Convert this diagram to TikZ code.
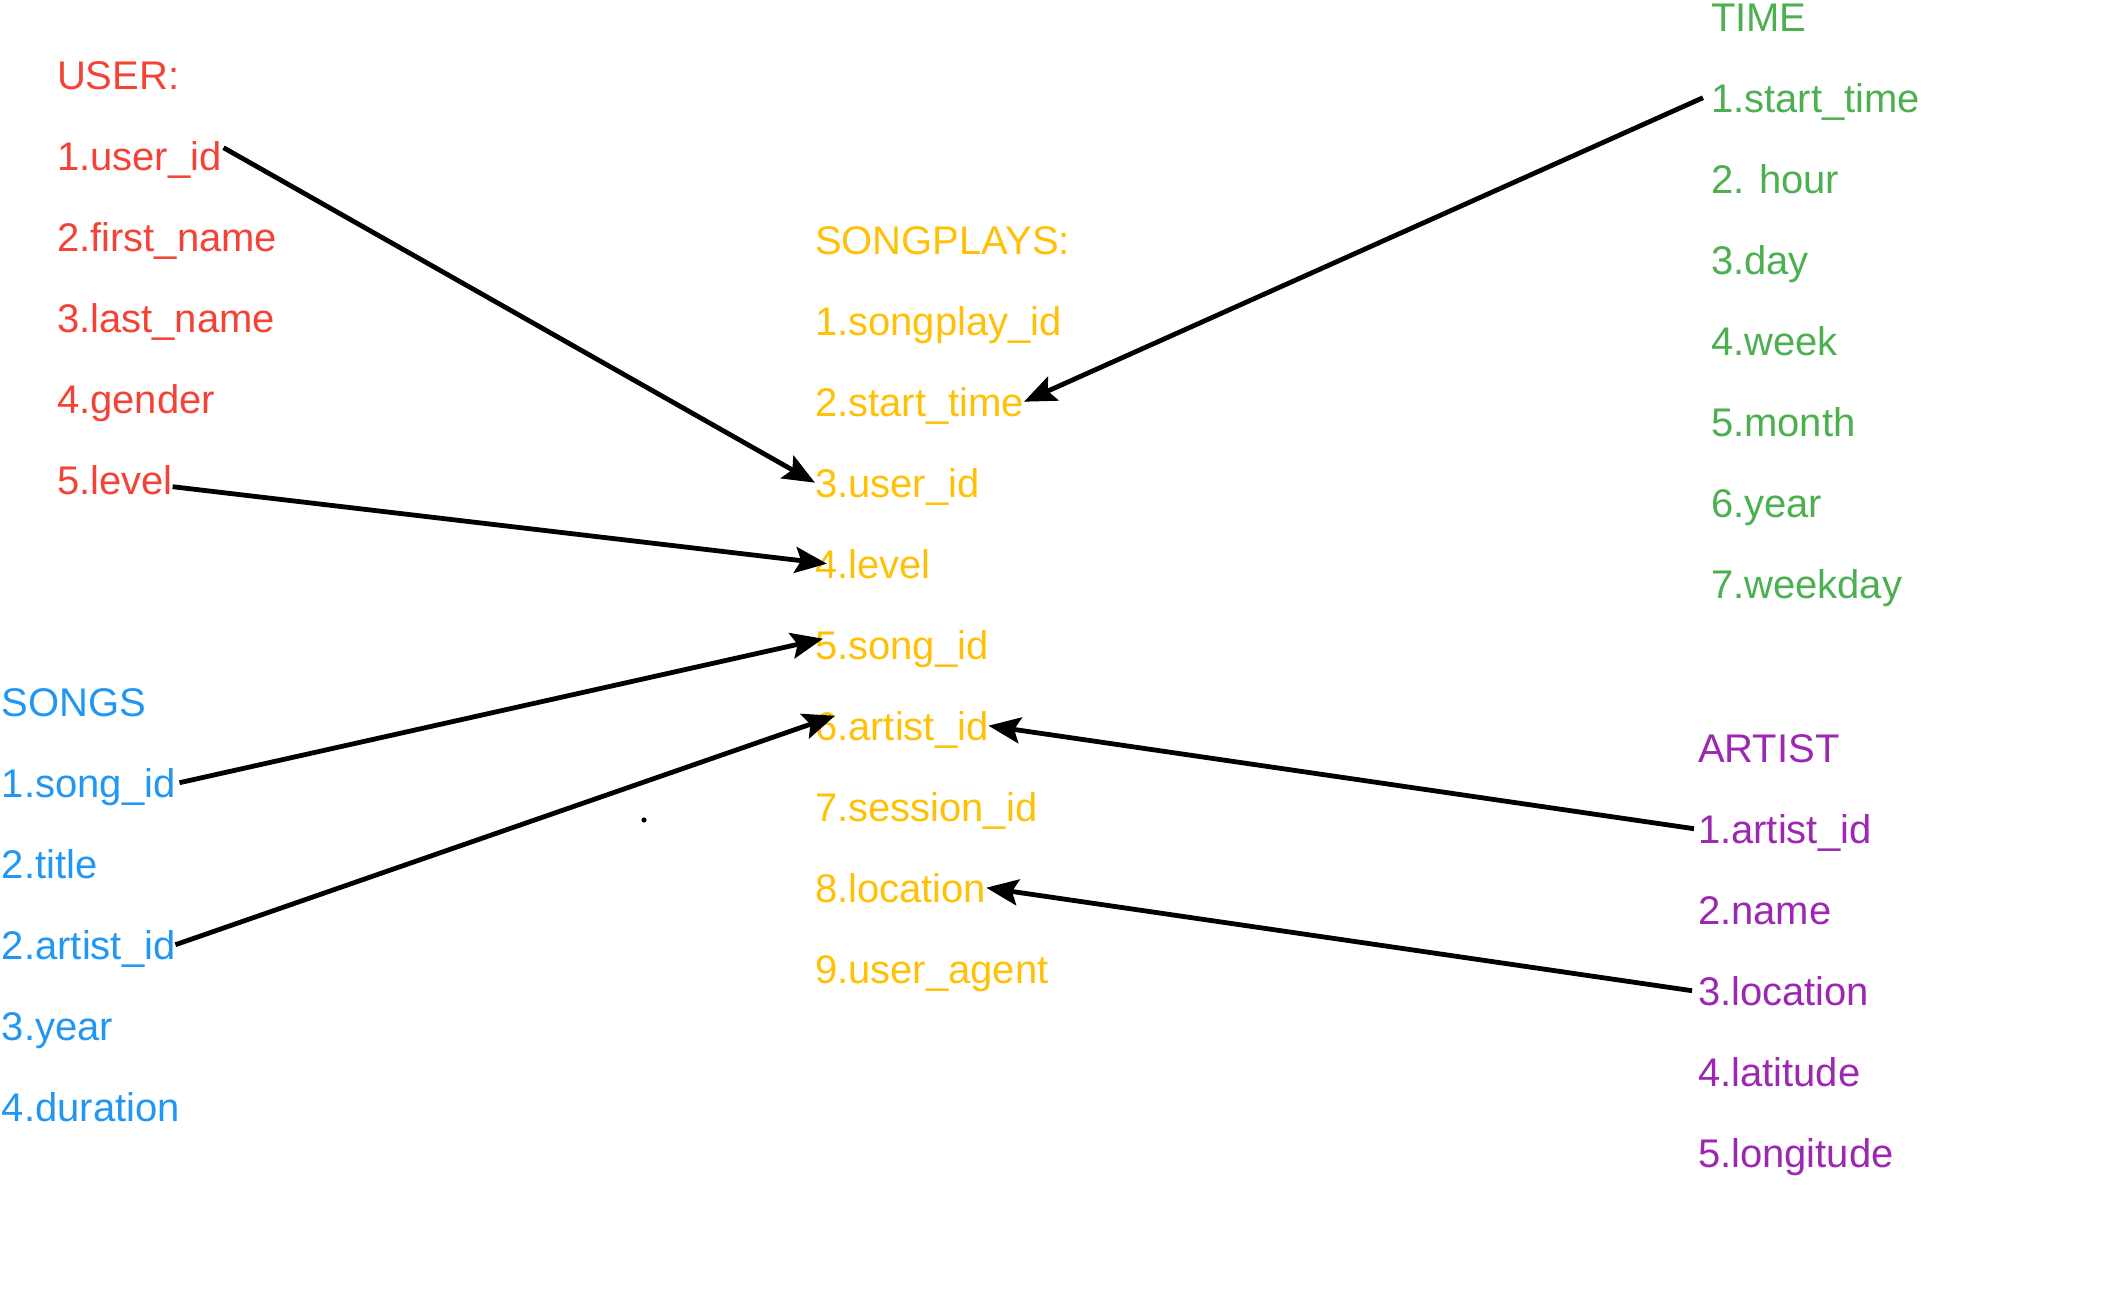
\documentclass[tikz,border=0pt]{standalone}
\usepackage{fontspec}
\setmainfont{Liberation Sans}
\usetikzlibrary{positioning,arrows.meta}
\definecolor{userred}{HTML}{F44336}
\definecolor{playamber}{HTML}{FFC107}
\definecolor{timegreen}{HTML}{4CAF50}
\definecolor{songblue}{HTML}{2196F3}
\definecolor{artistpurple}{HTML}{9C27B0}
\tikzset{
  field/.style   = {inner sep=0pt, outer sep=0pt,
                    text height=14.3pt, text depth=0pt,
                    font=\fontsize{20}{24}\selectfont},
  userf/.style   = {field, text=userred},
  playf/.style   = {field, text=playamber},
  timef/.style   = {field, text=timegreen},
  songf/.style   = {field, text=songblue},
  artistf/.style = {field, text=artistpurple},
  row/.style     = {below=of #1.south west, anchor=north west},
  link/.style    = {draw, line width=2.4pt,
                    -{Stealth[length=16pt,width=13pt,inset=3pt]}}
}
\begin{document}
\begin{tikzpicture}
  [
    x                 = 0.5pt,
    y                 = -0.5pt,
    node distance     = 26.2pt
  ]
  \useasboundingbox (0,0) rectangle (2112,1296);
  % USER
  \node [userf, anchor=base west] (u0) at (57,89) {USER:};
  \node [userf, row=u0] (u1) {1.user\_id};
  \node [userf, row=u1] (u2) {2.first\_name};
  \node [userf, row=u2] (u3) {3.last\_name};
  \node [userf, row=u3] (u4) {4.gender};
  \node [userf, row=u4] (u5) {5.level};
  % SONGPLAYS
  \node [playf, anchor=base west] (p0) at (815,254) {SONGPLAYS:};
  \node [playf, row=p0] (p1) {1.songplay\_id};
  \node [playf, row=p1] (p2) {2.start\_time};
  \node [playf, row=p2] (p3) {3.user\_id};
  \node [playf, row=p3] (p4) {4.level};
  \node [playf, row=p4] (p5) {5.song\_id};
  \node [playf, row=p5] (p6) {6.artist\_id};
  \node [playf, row=p6] (p7) {7.session\_id};
  \node [playf, row=p7] (p8) {8.location};
  \node [playf, row=p8] (p9) {9.user\_agent};
  % TIME
  \node [timef, anchor=base west] (t0) at (1711,31) {TIME};
  \node [timef, row=t0] (t1) {1.start\_time};
  \node [timef, row=t1] (t2) {2. hour};
  \node [timef, row=t2] (t3) {3.day};
  \node [timef, row=t3] (t4) {4.week};
  \node [timef, row=t4] (t5) {5.month};
  \node [timef, row=t5] (t6) {6.year};
  \node [timef, row=t6] (t7) {7.weekday};
  % SONGS
  \node [songf, anchor=base west] (g0) at (2,716) {SONGS};
  \node [songf, row=g0] (g1) {1.song\_id};
  \node [songf, row=g1] (g2) {2.title};
  \node [songf, row=g2] (g3) {2.artist\_id};
  \node [songf, row=g3] (g4) {3.year};
  \node [songf, row=g4] (g5) {4.duration};
  % ARTIST
  \node [artistf, anchor=base west] (a0) at (1698,762) {ARTIST};
  \node [artistf, row=a0] (a1) {1.artist\_id};
  \node [artistf, row=a1] (a2) {2.name};
  \node [artistf, row=a2] (a3) {3.location};
  \node [artistf, row=a3] (a4) {4.latitude};
  \node [artistf, row=a4] (a5) {5.longitude};

  \draw [link] ([xshift=1pt,yshift=4pt]u1.east) -- (p3.west);
  \draw [link] ([yshift=-3.5pt]u5.east) -- ([xshift=6pt]p4.west);
  \draw [link] ([xshift=-4pt]t1.west) -- (p2.east);
  \draw [link] ([xshift=2pt]g1.east) -- ([xshift=4pt,yshift=3pt]p5.west);
  \draw [link] (g3.east) -- ([xshift=10pt,yshift=5pt]p6.west);
  \draw [link] ([xshift=-2pt]a1.west) -- (p6.east);
  \draw [link] ([xshift=-3pt]a3.west) -- (p8.east);
  \fill (644,820) circle [radius=1.3pt];
\end{tikzpicture}
\end{document}
